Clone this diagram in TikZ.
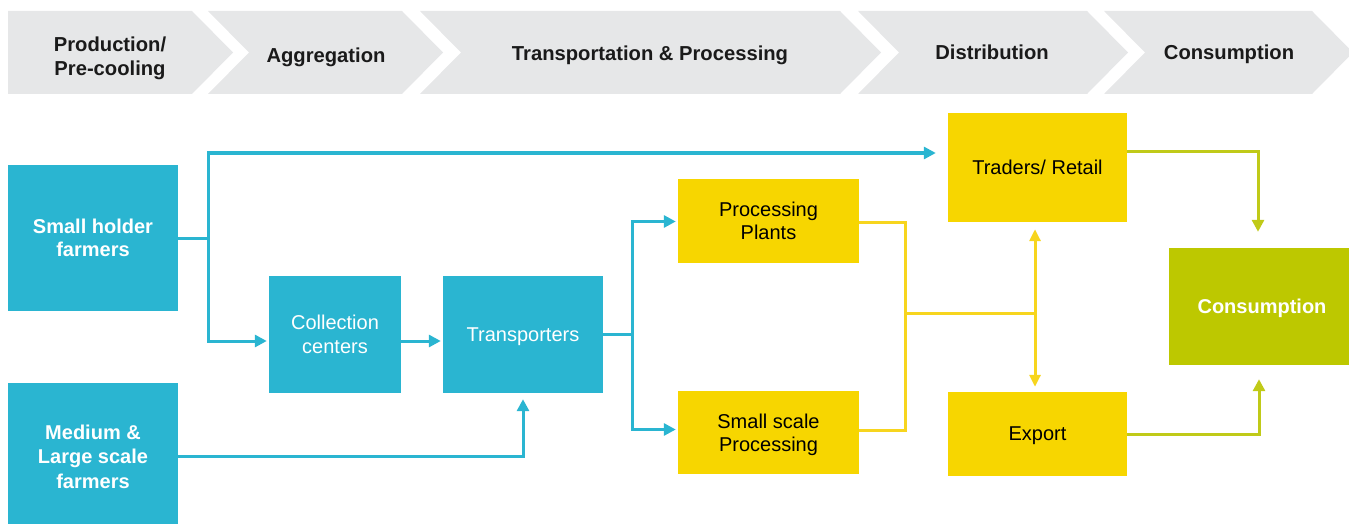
\documentclass[tikz,border=0pt]{standalone}
\usepackage{fontspec}
\setmainfont{Liberation Sans}
\usetikzlibrary{arrows.meta,calc}

\definecolor{stageGray}{HTML}{E6E7E8}
\definecolor{flowBlue}{HTML}{2AB5D1}
\definecolor{flowYellow}{HTML}{F7D600}
\definecolor{lineYellow}{HTML}{F7D51E}
\definecolor{flowGreen}{HTML}{BDC800}
\definecolor{lineGreen}{HTML}{C0CA18}
\definecolor{stageText}{HTML}{1A1A1A}

\begin{document}
\begin{tikzpicture}[x=1pt,y=-1pt,
  stage/.style={fill=stageGray},
  stagelabel/.style={align=center,text=stageText,text depth=0pt,
    font=\fontsize{20.2}{24}\selectfont\bfseries},
  box/.style={inner sep=0pt,align=center,text depth=0pt,font=\fontsize{20}{23.5}\selectfont},
  bluebox/.style={box,fill=flowBlue,text=white},
  yellowbox/.style={box,fill=flowYellow,text=black},
  greenbox/.style={box,fill=flowGreen,text=white},
  tip/.style={-{Triangle[length=12pt,width=12pt]}},
  bline/.style={draw=flowBlue,line width=3pt},
  yline/.style={draw=lineYellow,line width=3pt},
  gline/.style={draw=lineGreen,line width=3pt},
  barrow/.style={bline,tip},
  garrow/.style={gline,tip}]
\useasboundingbox (0,0) rectangle (1349,524);

% stage chevrons along the top
\fill[stage] (8,11) -- (192,11) -- (233,52.5) -- (192,94) -- (8,94) -- cycle;
\fill[stage] (208,11) -- (402,11) -- (443,52.5) -- (402,94) -- (208,94) -- (249,52.5) -- cycle;
\fill[stage] (420,11) -- (840,11) -- (881,52.5) -- (840,94) -- (420,94) -- (461,52.5) -- cycle;
\fill[stage] (858,11) -- (1087,11) -- (1128,52.5) -- (1087,94) -- (858,94) -- (899,52.5) -- cycle;
\fill[stage] (1104,11) -- (1312,11) -- (1353,52.5) -- (1312,94) -- (1104,94) -- (1145,52.5) -- cycle;

\node[stagelabel] (st1) at (110,56) {Production/\\Pre-cooling};
\node[stagelabel] (st2) at (326,55) {Aggregation};
\node[stagelabel] (st3) at (650,53) {Transportation \& Processing};
\node[stagelabel] (st4) at (992,52) {Distribution};
\node[stagelabel] (st5) at (1229,52) {Consumption};

% actors
\node[bluebox,minimum width=170pt,minimum height=146pt,font=\fontsize{20}{23.5}\selectfont\bfseries]
  (small) at (93,238) {Small holder\\farmers};
\node[bluebox,minimum width=170pt,minimum height=147pt,font=\fontsize{20}{24.5}\selectfont\bfseries]
  (medium) at (93,456.5) {Medium \&\\Large scale\\farmers};
\node[bluebox,minimum width=132pt,minimum height=117pt] (collection) at (335,334.5) {Collection\\centers};
\node[bluebox,minimum width=160pt,minimum height=117pt] (transporters) at (523,334.5) {Transporters};
\node[yellowbox,minimum width=181pt,minimum height=84pt] (plants) at (768.5,221) {Processing\\Plants};
\node[yellowbox,minimum width=181pt,minimum height=83pt] (sscale) at (768.5,432.5) {Small scale\\Processing};
\node[yellowbox,minimum width=179pt,minimum height=109pt] (traders) at (1037.5,167.5) {Traders/ Retail};
\node[yellowbox,minimum width=179pt,minimum height=84pt] (export) at (1037.5,434) {Export};
\node[greenbox,minimum width=186pt,minimum height=117pt,font=\fontsize{20}{23.5}\selectfont\bfseries]
  (consumption) at (1262,306.5) {Consumption};

% blue flows
\coordinate (sj) at (208,238);
\draw[bline] (small.east) -- (sj);
\draw[barrow] (sj) |- ($(traders.west)+(-12,-14.5)$);
\draw[barrow] (sj) |- ($(collection.west)+(-2,6.5)$);
\draw[barrow] ($(collection.east)+(0,6.5)$) -- ($(transporters.west)+(-2,6.5)$);
\draw[barrow] (medium.east) -| ($(transporters.south)+(0,6)$);
\coordinate (tj) at (632,334.5);
\draw[bline] (transporters.east) -- (tj);
\draw[barrow] (tj) |- ($(plants.west)+(-2,0.5)$);
\draw[barrow] (tj) |- ($(sscale.west)+(-2,-3)$);

% yellow flows
\draw[yline] ($(plants.east)+(0,1)$) -| ($(sscale.east)+(46,-2.5)$) -- ($(sscale.east)+(0,-2.5)$);
\coordinate (yj) at (905,313);
\coordinate (yk) at (1035,313);
\draw[yline] (yj) -- (yk);
\draw[yline,{Triangle[length=12pt,width=11pt]}-{Triangle[length=12pt,width=11pt]}]
  ($(traders.south)+(-2.5,7)$) -- ($(export.north)+(-2.5,-5)$);

% green flows
\draw[garrow] ($(traders.east)+(0,-15.5)$) -| ($(consumption.north)+(-4,-16)$);
\draw[garrow] (export.east) -| ($(consumption.south)+(-3,14)$);
\end{tikzpicture}
\end{document}
